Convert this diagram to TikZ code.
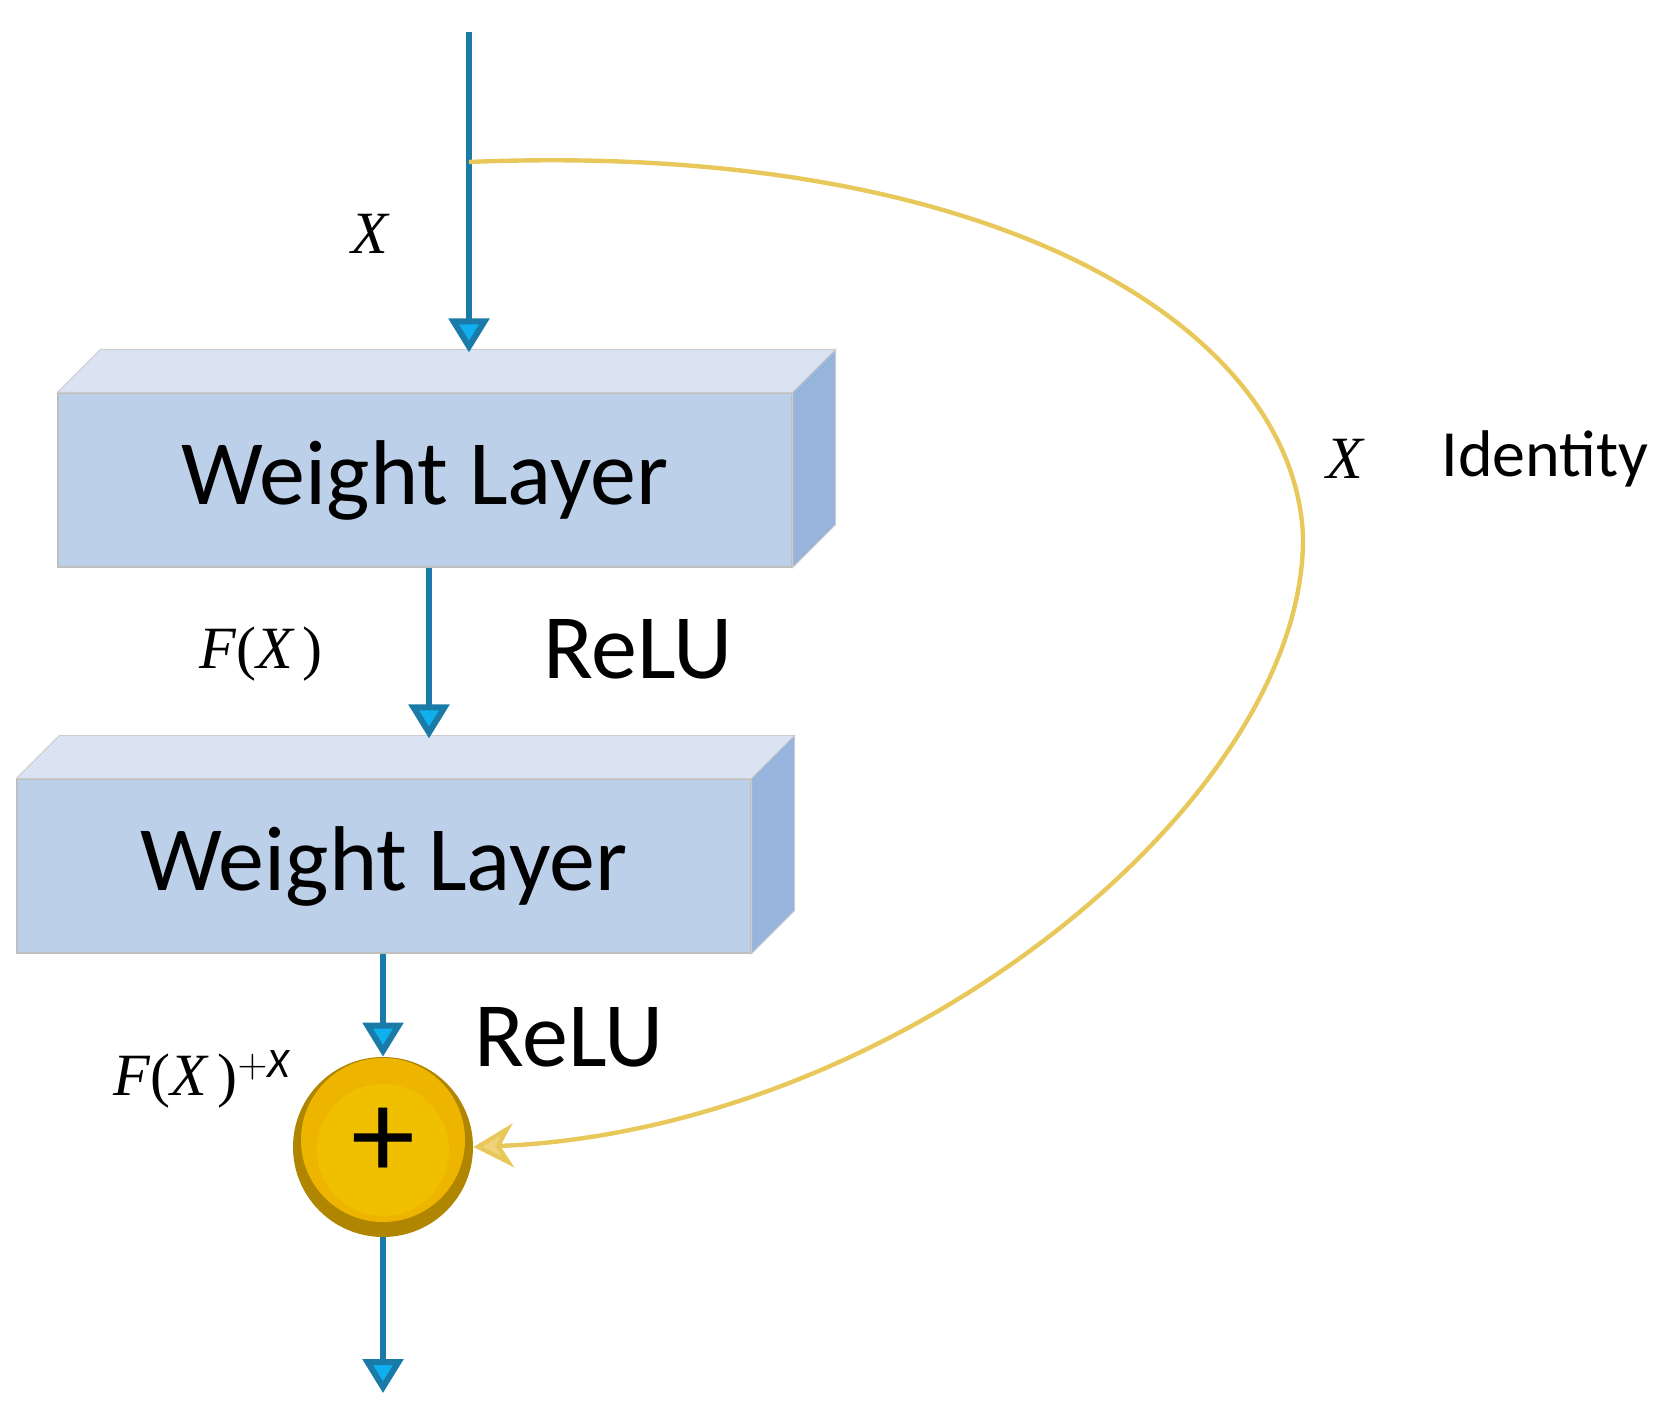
\documentclass[tikz,border=0pt]{standalone}
\usepackage{fontspec}
\setmainfont{Carlito}
\newfontfamily\serifit{Liberation Serif}
\usetikzlibrary{arrows.meta,calc}
\definecolor{bline}{HTML}{1B7BA8}
\definecolor{btip}{HTML}{10B0EE}
\definecolor{bfront}{HTML}{BDD0EA}
\definecolor{btop}{HTML}{DAE3F1}
\definecolor{bside}{HTML}{97B4DC}
\definecolor{yline}{HTML}{E8C85A}
\definecolor{ytip}{HTML}{F0D37A}
\definecolor{gold}{HTML}{EDB500}
\definecolor{golddk}{HTML}{B08500}
\newcommand{\up}[1]{\textup{#1}}
\tikzset{
  flow/.style={draw=bline,line width=3pt,-{Triangle[width=20pt,length=17pt,fill=btip]}},
  box/.style={fill=bfront,draw=black!25,line width=0.6pt,minimum width=367pt,minimum height=87pt,inner sep=0pt,font=\fontsize{46}{50}\selectfont},
  lbl/.style={font=\fontsize{46}{50}\selectfont,inner sep=0pt},
  mth/.style={font=\serifit\itshape\fontsize{30}{34}\selectfont,inner sep=0pt},
}
\begin{document}
\begin{tikzpicture}[x=0.5pt,y=-0.5pt]
\useasboundingbox (0,0) rectangle (1659,1401);
% box 1
\node[box] (b1) at (425,480) {Weight Layer};
\fill[btop,draw=black!20] (b1.north west) -- ++(43,-43) -- ($(b1.north east)+(43,-43)$) -- (b1.north east) -- cycle;
\fill[bside,draw=black!20] (b1.north east) -- ++(43,-43) -- ($(b1.south east)+(43,-43)$) -- (b1.south east) -- cycle;
% box 2
\node[box] (b2) at (384,866) {Weight Layer};
\fill[btop,draw=black!20] (b2.north west) -- ++(43,-43) -- ($(b2.north east)+(43,-43)$) -- (b2.north east) -- cycle;
\fill[bside,draw=black!20] (b2.north east) -- ++(43,-43) -- ($(b2.south east)+(43,-43)$) -- (b2.south east) -- cycle;
% adder
\node[circle,minimum size=90pt,inner sep=0pt,fill=golddk] (add) at (383,1147) {};
\fill[gold] (383,1140) circle[radius=82];
\fill[gold!85!yellow] (383,1150) circle[radius=66];
\node[font=\fontsize{64}{64}\selectfont] at ($(add.center)+(0,-4)$) {+};
% coordinates
\coordinate (in) at (469,32);
\coordinate (split) at (469,162);
\coordinate (out) at (383,1393);
% flows
\draw[flow] (in) -- ($(b1.north west)!(469,0)!(b1.north east)+(0,-40)$);
\draw[flow] ($(b1.south west)!(429,0)!(b1.south east)$) -- ($(b2.north west)!(429,0)!(b2.north east)+(0,-40)$);
\draw[flow] ($(b2.south west)!(add.north)!(b2.south east)$) -- (add.north);
\draw[flow] (add.south) -- (out);
% identity
\draw[yline,line width=2.2pt,-{Stealth[width=22pt,length=20pt,fill=ytip]}] (split) .. controls (1000,140) and (1295,330) .. (1303,537) .. controls (1305,800) and (900,1130) .. (add.east);
% labels
\node[mth] (lx) at (370,234) {X};
\node[mth] (lfx) at (261,654) {F\up{(}X\,\up{)}};
\node[mth] (lfxx) at (202,1079) {F\up{(}X\,\up{)}$^{\mathit{+X}}$};
\node[mth] (lx2) at (1345,459) {X};
\node[font=\fontsize{33}{36}\selectfont,inner sep=0pt] (lid) at (1545,459) {Identity};
\node[lbl] (r1) at (638,649) {ReLU};
\node[lbl] (r2) at (569,1037) {ReLU};
\end{tikzpicture}
\end{document}
